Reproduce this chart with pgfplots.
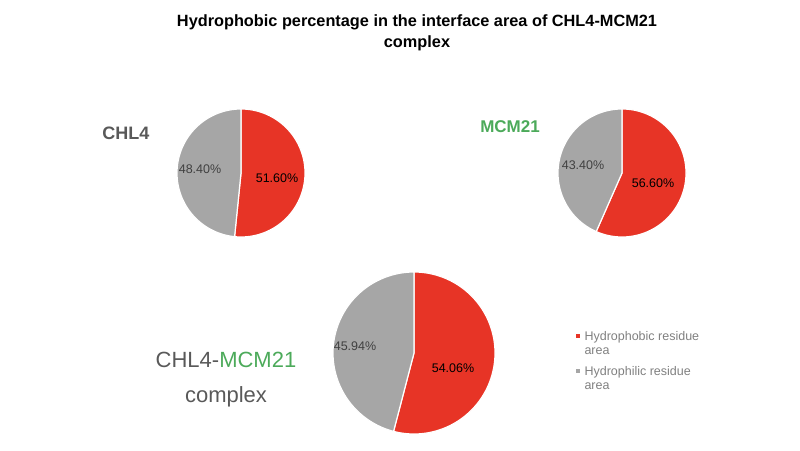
\documentclass[border=0pt]{standalone}
\usepackage{pgfplots}
\pgfplotsset{compat=1.18}
\usepackage{fontspec}
\setmainfont{Liberation Sans}
\definecolor{pred}{RGB}{231,52,38}
\definecolor{pgray}{RGB}{166,166,166}
\definecolor{lblgray}{RGB}{89,89,89}
\definecolor{lblgreen}{RGB}{76,170,90}
\definecolor{txtdark}{RGB}{64,64,64}
\definecolor{leggray}{RGB}{128,128,128}
\begin{document}
\begin{tikzpicture}
\begin{axis}[x=1pt, y=1pt, xmin=0, xmax=800, ymin=-450, ymax=0,
  hide axis, clip=false]
\path (axis cs:0,-450) rectangle (axis cs:800,0);
% ---- CHL4: hydrophobic 51.60, hydrophilic 48.40
\addplot[fill=pred, draw=white, line width=1.2pt, domain=0:3.6*51.60, samples=120]
  ({241+64*sin(x)},{-173+64*cos(x)}) -- (axis cs:241,-173) -- cycle;
\addplot[fill=pgray, draw=white, line width=1.2pt, domain=3.6*51.60:360, samples=120]
  ({241+64*sin(x)},{-173+64*cos(x)}) -- (axis cs:241,-173) -- cycle;
% ---- MCM21: hydrophobic 56.60, hydrophilic 43.40
\addplot[fill=pred, draw=white, line width=1.2pt, domain=0:3.6*56.60, samples=120]
  ({622+64*sin(x)},{-173+64*cos(x)}) -- (axis cs:622,-173) -- cycle;
\addplot[fill=pgray, draw=white, line width=1.2pt, domain=3.6*56.60:360, samples=120]
  ({622+64*sin(x)},{-173+64*cos(x)}) -- (axis cs:622,-173) -- cycle;
% ---- complex: hydrophobic 54.06, hydrophilic 45.94
\addplot[fill=pred, draw=white, line width=1.2pt, domain=0:3.6*54.06, samples=150]
  ({414+81*sin(x)},{-353+81*cos(x)}) -- (axis cs:414,-353) -- cycle;
\addplot[fill=pgray, draw=white, line width=1.2pt, domain=3.6*54.06:360, samples=150]
  ({414+81*sin(x)},{-353+81*cos(x)}) -- (axis cs:414,-353) -- cycle;
% ---- percentage labels
\node[font=\fontsize{12.5}{14}\selectfont, text=black] at (axis cs:277,-178) {51.60\%};
\node[font=\fontsize{12.5}{14}\selectfont, text=txtdark] at (axis cs:200,-169) {48.40\%};
\node[font=\fontsize{12.5}{14}\selectfont, text=black] at (axis cs:653,-183) {56.60\%};
\node[font=\fontsize{12.5}{14}\selectfont, text=txtdark] at (axis cs:583,-165) {43.40\%};
\node[font=\fontsize{12.5}{14}\selectfont, text=black] at (axis cs:453,-368) {54.06\%};
\node[font=\fontsize{12.5}{14}\selectfont, text=txtdark] at (axis cs:355,-346) {45.94\%};
% ---- title
\node[font=\bfseries\fontsize{16.3}{21}\selectfont, align=center] at (axis cs:417,-33)
  {Hydrophobic percentage in the interface area of CHL4-MCM21\\complex};
% ---- pie names
\node[font=\bfseries\fontsize{18}{20}\selectfont, text=lblgray] at (axis cs:126,-133) {CHL4};
\node[font=\bfseries\fontsize{17}{20}\selectfont, text=lblgreen] at (axis cs:510,-127) {MCM21};
\node[font=\fontsize{22}{35}\selectfont, text=lblgray, align=center] at (axis cs:226,-380)
  {CHL4-\textcolor{lblgreen}{MCM21}\\complex};
% ---- legend
\node[fill=pred, minimum size=4.5pt, inner sep=0pt] at (axis cs:578,-336) {};
\node[fill=pgray, minimum size=4.5pt, inner sep=0pt] at (axis cs:578,-371) {};
\node[anchor=west, align=left, text=leggray, font=\fontsize{12.5}{14.5}\selectfont] at (axis cs:581,-343) {Hydrophobic residue\\area};
\node[anchor=west, align=left, text=leggray, font=\fontsize{12.5}{14.5}\selectfont] at (axis cs:581,-378) {Hydrophilic residue\\area};
\end{axis}
\end{tikzpicture}
\end{document}
